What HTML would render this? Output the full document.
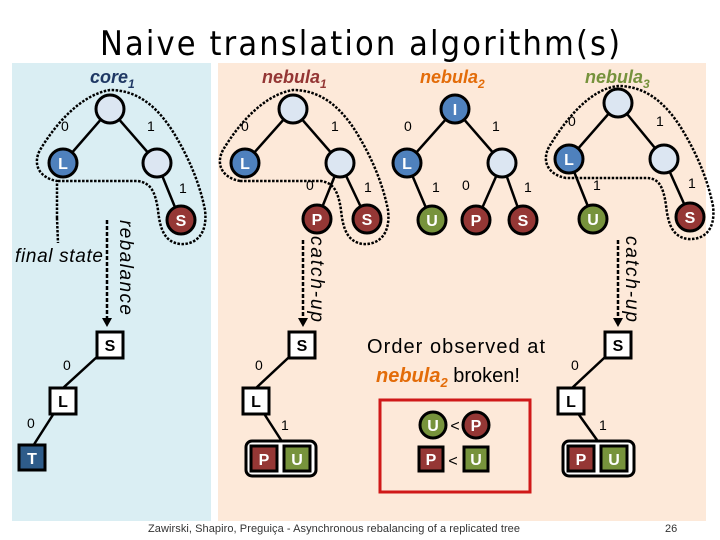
<!DOCTYPE html>
<html><head><meta charset="utf-8"><style>
body{margin:0;background:#fff}
svg{display:block;font-family:"Liberation Sans",sans-serif}
</style></head><body>
<svg width="720" height="540" viewBox="0 0 720 540" xmlns="http://www.w3.org/2000/svg">
<defs>
<marker id="ah" markerWidth="8" markerHeight="8" refX="4" refY="6" orient="auto" markerUnits="userSpaceOnUse"><path d="M0,0 L8,0 L4,8 z" fill="#000" transform="rotate(-90 4 4)"/></marker>
</defs>
<rect x="12" y="63" width="199" height="458" fill="#daeef3"/>
<rect x="218" y="63" width="488" height="458" fill="#fde9d9"/>
<text x="360" y="55" font-size="34" text-anchor="middle" fill="#000" style="font-family:'DejaVu Sans Condensed','Liberation Sans Narrow','Liberation Sans',sans-serif" textLength="520">Naive translation algorithm(s)</text>

<g font-weight="bold" font-style="italic" font-size="18">
<text x="90" y="83" fill="#1f3864">core<tspan font-size="12" dy="5">1</tspan></text>
<text x="262" y="83" fill="#943634">nebula<tspan font-size="12" dy="5">1</tspan></text>
<text x="420" y="83" fill="#e36c09">nebula<tspan font-size="12" dy="5">2</tspan></text>
<text x="585" y="83" fill="#76923c">nebula<tspan font-size="12" dy="5">3</tspan></text>
</g>

<!-- lassos -->
<g fill="none" stroke="#000" stroke-width="2.5" stroke-dasharray="2.5,1.5">
<path d="M57,218 L57,181 C40,178 32,165 40,150 C55,125 80,95 110,90 C140,90 160,110 175,135 C190,160 200,185 205,210 C208,235 195,245 180,244 C165,242 160,230 158,210 C155,190 150,183 138,181 L57,181"/>
<path d="M240,181 C223,178 215,165 223,150 C238,125 263,95 293,90 C323,90 343,110 358,135 C373,160 383,185 388,210 C391,235 378,245 363,244 C348,242 343,230 341,210 C338,190 333,183 321,181 Z"/>
<path d="M566,178 C549,175 541,162 549,147 C564,122 589,89 618,86 C648,86 668,106 683,131 C698,156 708,181 713,206 C716,231 703,240 688,239 C673,237 668,225 666,205 C663,185 658,178 646,178 Z"/>
</g>
<line x1="57" y1="218" x2="58" y2="243" stroke="#000" stroke-width="2.5" stroke-dasharray="2.5,1.5"/>

<!-- edges -->
<g stroke="#000" stroke-width="2.5">
<line x1="110" y1="109" x2="63" y2="163"/><line x1="110" y1="109" x2="157" y2="163"/><line x1="157" y1="163" x2="181" y2="222"/>
<line x1="293" y1="109" x2="245" y2="163"/><line x1="293" y1="109" x2="340" y2="163"/><line x1="340" y1="163" x2="317" y2="220"/><line x1="340" y1="163" x2="367" y2="220"/>
<line x1="455" y1="109" x2="407" y2="163"/><line x1="455" y1="109" x2="502" y2="163"/><line x1="407" y1="163" x2="432" y2="222"/><line x1="502" y1="163" x2="476" y2="222"/><line x1="502" y1="163" x2="523" y2="222"/>
<line x1="618" y1="103" x2="569" y2="159"/><line x1="618" y1="103" x2="664" y2="159"/><line x1="569" y1="159" x2="593" y2="219"/><line x1="664" y1="159" x2="690" y2="217"/>
<line x1="110" y1="345" x2="63" y2="388"/><line x1="56" y1="410" x2="33" y2="446"/>
<line x1="302" y1="345" x2="256" y2="388"/><line x1="263" y1="412" x2="281" y2="440"/>
<line x1="618" y1="345" x2="572" y2="388"/><line x1="577" y1="412" x2="597" y2="440"/>
</g>

<!-- circles -->
<g stroke="#000" stroke-width="3">
<circle cx="110" cy="109" r="14" fill="#dce6f2"/><circle cx="63" cy="163" r="14" fill="#4f81bd"/><circle cx="157" cy="163" r="14" fill="#dce6f2"/><circle cx="181" cy="220" r="14" fill="#953735"/>
<circle cx="293" cy="109" r="14" fill="#dce6f2"/><circle cx="245" cy="163" r="14" fill="#4f81bd"/><circle cx="340" cy="163" r="14" fill="#dce6f2"/><circle cx="317" cy="219" r="14" fill="#953735"/><circle cx="367" cy="219" r="14" fill="#953735"/>
<circle cx="455" cy="109" r="14" fill="#4f81bd"/><circle cx="407" cy="163" r="14" fill="#4f81bd"/><circle cx="502" cy="163" r="14" fill="#dce6f2"/><circle cx="432" cy="220" r="14" fill="#77933c"/><circle cx="476" cy="220" r="14" fill="#953735"/><circle cx="523" cy="220" r="14" fill="#953735"/>
<circle cx="618" cy="103" r="14" fill="#dce6f2"/><circle cx="569" cy="159" r="14" fill="#4f81bd"/><circle cx="664" cy="159" r="14" fill="#dce6f2"/><circle cx="593" cy="219" r="14" fill="#77933c"/><circle cx="690" cy="217" r="14" fill="#953735"/>
<circle cx="433" cy="425" r="13" fill="#77933c"/><circle cx="476" cy="425" r="13" fill="#953735"/>
</g>
<g fill="#fff" font-weight="bold" font-size="16" text-anchor="middle">
<text x="63" y="169">L</text><text x="181" y="226">S</text>
<text x="245" y="169">L</text><text x="317" y="225">P</text><text x="367" y="225">S</text>
<text x="455" y="115">I</text><text x="407" y="169">L</text><text x="432" y="226">U</text><text x="476" y="226">P</text><text x="523" y="226">S</text>
<text x="569" y="165">L</text><text x="593" y="225">U</text><text x="690" y="223">S</text>
<text x="433" y="431">U</text><text x="476" y="431">P</text>
</g>

<!-- edge labels -->
<g font-size="14" fill="#000">
<text x="61" y="131">0</text><text x="147" y="131">1</text><text x="179" y="193">1</text>
<text x="241" y="131">0</text><text x="331" y="131">1</text><text x="306" y="190">0</text><text x="364" y="192">1</text>
<text x="404" y="131">0</text><text x="492" y="131">1</text><text x="432" y="192">1</text><text x="462" y="190">0</text><text x="524" y="192">1</text>
<text x="568" y="126">0</text><text x="656" y="126">1</text><text x="593" y="190">1</text><text x="688" y="188">1</text>
<text x="63" y="370">0</text><text x="27" y="428">0</text>
<text x="255" y="370">0</text><text x="281" y="430">1</text>
<text x="571" y="370">0</text><text x="599" y="430">1</text>
</g>

<!-- arrows -->
<g stroke="#000" stroke-width="2.5" stroke-dasharray="4,2">
<line x1="107" y1="220" x2="107" y2="320"/><line x1="303" y1="240" x2="303" y2="320"/><line x1="618" y1="240" x2="618" y2="320"/>
</g>
<g fill="#000"><path d="M102,318 L112,318 L107,327z"/><path d="M298,318 L308,318 L303,327z"/><path d="M613,318 L623,318 L618,327z"/></g>
<g font-size="19" font-style="italic" fill="#000">
<text transform="translate(120,220) rotate(90)" textLength="95">rebalance</text>
<text transform="translate(311,236) rotate(90)" textLength="86">catch-up</text>
<text transform="translate(626,236) rotate(90)" textLength="86">catch-up</text>
<text x="15" y="262" textLength="88">final state</text>
</g>

<!-- squares -->
<g stroke="#000" stroke-width="3">
<rect x="97" y="332" width="26" height="26" fill="#fff"/><rect x="50" y="388" width="26" height="26" fill="#fff"/><rect x="19" y="445" width="26" height="25" fill="#2e5c8a"/>
<rect x="289" y="332" width="26" height="26" fill="#fff"/><rect x="243" y="388" width="26" height="26" fill="#fff"/>
<rect x="605" y="332" width="26" height="26" fill="#fff"/><rect x="558" y="388" width="26" height="26" fill="#fff"/>
<rect x="246" y="441" width="70" height="35" rx="6" fill="#fff"/><rect x="563" y="441" width="71" height="35" rx="6" fill="#fff"/>
<rect x="251" y="446" width="26" height="25" fill="#953735"/><rect x="284" y="446" width="26" height="25" fill="#77933c"/>
<rect x="568" y="446" width="26" height="25" fill="#953735"/><rect x="601" y="446" width="26" height="25" fill="#77933c"/>
<rect x="419" y="447" width="24" height="24" fill="#953735"/><rect x="464" y="447" width="24" height="24" fill="#77933c"/>
</g>
<g font-weight="bold" font-size="16" text-anchor="middle">
<text x="110" y="351">S</text><text x="63" y="407">L</text><text x="32" y="464" fill="#fff">T</text>
<text x="302" y="351">S</text><text x="256" y="407">L</text>
<text x="618" y="351">S</text><text x="571" y="407">L</text>
<text x="264" y="465" fill="#fff">P</text><text x="297" y="465" fill="#fff">U</text>
<text x="581" y="465" fill="#fff">P</text><text x="614" y="465" fill="#fff">U</text>
<text x="431" y="465" fill="#fff">P</text><text x="476" y="465" fill="#fff">U</text>
</g>
<g font-size="16" text-anchor="middle"><text x="455" y="431">&lt;</text><text x="453" y="466">&lt;</text></g>

<rect x="380" y="400" width="150" height="92" fill="none" stroke="#d01818" stroke-width="3"/>
<text x="456" y="353" font-size="20" text-anchor="middle" textLength="178">Order observed at</text>
<text x="376" y="382" font-size="20" fill="#000"><tspan font-weight="bold" font-style="italic" fill="#e36c09">nebula<tspan font-size="13" dy="5">2</tspan></tspan><tspan dy="-5"> broken!</tspan></text>

<text x="148" y="532" font-size="11" fill="#333" textLength="372">Zawirski, Shapiro, Preguiça - Asynchronous rebalancing of a replicated tree</text>
<text x="665" y="532" font-size="11" fill="#333">26</text>
</svg>
</body></html>
